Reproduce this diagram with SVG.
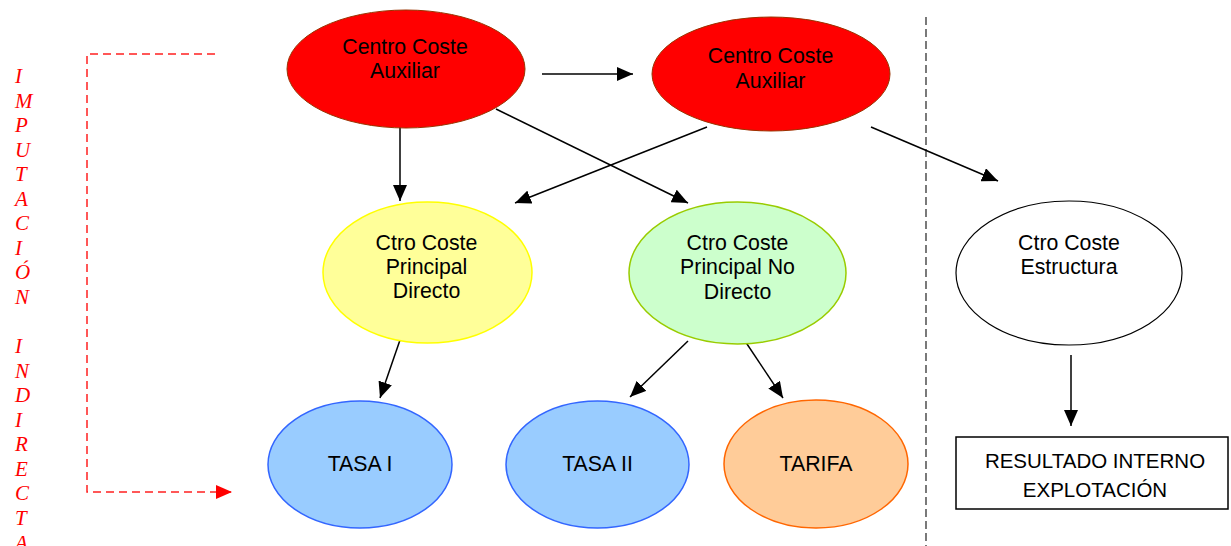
<svg xmlns="http://www.w3.org/2000/svg" width="1231" height="546" viewBox="0 0 1231 546">
<style>
.t{font-family:"Liberation Sans",Arial,sans-serif;font-size:21.3px;fill:#000;text-anchor:middle}
.b{font-family:"Liberation Sans",Arial,sans-serif;font-size:20.5px;fill:#000;text-anchor:middle}
.v{font-family:"Liberation Serif","Times New Roman",serif;font-style:italic;font-size:21px;fill:#ff0000}
.c{stroke:#000;stroke-width:1.5;fill:none;marker-end:url(#ah)}
.red{fill:#ff0000;stroke:#993300;stroke-width:1}
</style>
<defs>
<marker id="ah" markerUnits="userSpaceOnUse" markerWidth="16" markerHeight="14" viewBox="0 0 16 14" refX="16" refY="7" orient="auto">
<path d="M0,0 L16,7 L0,14 z" fill="#000"/>
</marker>
<marker id="ra" markerUnits="userSpaceOnUse" markerWidth="16" markerHeight="14" viewBox="0 0 16 14" refX="16" refY="7" orient="auto">
<path d="M0,0 L16,7 L0,14 z" fill="#ff0000"/>
</marker>
</defs>

<g id="vertical-label">
<text class="v" x="15" y="83">I</text>
<text class="v" x="15" y="107.6">M</text>
<text class="v" x="15" y="132.1">P</text>
<text class="v" x="15" y="156.7">U</text>
<text class="v" x="15" y="181.2">T</text>
<text class="v" x="15" y="205.8">A</text>
<text class="v" x="15" y="230.3">C</text>
<text class="v" x="15" y="254.9">I</text>
<text class="v" x="15" y="279.4">Ó</text>
<text class="v" x="15" y="304">N</text>
<text class="v" x="15" y="353.1">I</text>
<text class="v" x="15" y="377.6">N</text>
<text class="v" x="15" y="402.2">D</text>
<text class="v" x="15" y="426.7">I</text>
<text class="v" x="15" y="451.3">R</text>
<text class="v" x="15" y="475.8">E</text>
<text class="v" x="15" y="500.4">C</text>
<text class="v" x="15" y="524.9">T</text>
<text class="v" x="15" y="549.5">A</text>
</g>

<g id="separator">
<line x1="926" y1="17" x2="926" y2="546" stroke="#222" stroke-width="1.2" stroke-dasharray="8 4"/>
</g>

<g id="connectors">
<path d="M215,54 H87 V492 H232" fill="none" stroke="#ff2020" stroke-width="1.5" stroke-dasharray="8 5" marker-end="url(#ra)"/>
<line class="c" x1="542" y1="74" x2="633" y2="74"/>
<line class="c" x1="400" y1="127" x2="400" y2="201"/>
<line class="c" x1="496" y1="109" x2="688" y2="203"/>
<line class="c" x1="707" y1="127" x2="515" y2="203"/>
<line class="c" x1="871" y1="127" x2="998" y2="181"/>
<line class="c" x1="400" y1="340" x2="380" y2="398"/>
<line class="c" x1="688" y1="341" x2="630" y2="397"/>
<line class="c" x1="745" y1="341" x2="783" y2="398"/>
<line class="c" x1="1071" y1="355" x2="1071" y2="426"/>
</g>

<g id="aux1">
<ellipse class="red" cx="406" cy="69" rx="119" ry="59"/>
<text class="t" x="405" y="54">Centro Coste</text>
<text class="t" x="405" y="78">Auxiliar</text>
</g>

<g id="aux2">
<ellipse class="red" cx="771" cy="74" rx="119" ry="57"/>
<text class="t" x="770.5" y="63">Centro Coste</text>
<text class="t" x="770.5" y="87.5">Auxiliar</text>
</g>

<g id="principal-directo">
<ellipse cx="427.5" cy="272.5" rx="104.5" ry="70.5" fill="#ffff99" stroke="#ffff00" stroke-width="1.5"/>
<text class="t" x="426.5" y="250">Ctro Coste</text>
<text class="t" x="426.5" y="274">Principal</text>
<text class="t" x="426.5" y="298">Directo</text>
</g>

<g id="principal-no-directo">
<ellipse cx="737.5" cy="273" rx="108.5" ry="71" fill="#ccffcc" stroke="#99cc00" stroke-width="1.5"/>
<text class="t" x="737.5" y="250">Ctro Coste</text>
<text class="t" x="737.5" y="274">Principal No</text>
<text class="t" x="737.5" y="298.5">Directo</text>
</g>

<g id="estructura">
<ellipse cx="1069" cy="273" rx="113" ry="72" fill="#ffffff" stroke="#000" stroke-width="1.2"/>
<text class="t" x="1069" y="250">Ctro Coste</text>
<text class="t" x="1069" y="274">Estructura</text>
</g>

<g id="tasa1">
<ellipse cx="360" cy="464.5" rx="92" ry="63.5" fill="#99ccff" stroke="#3366ff" stroke-width="1.5"/>
<text class="t" x="360" y="471">TASA I</text>
</g>

<g id="tasa2">
<ellipse cx="597.5" cy="464.5" rx="91.5" ry="63.5" fill="#99ccff" stroke="#3366ff" stroke-width="1.5"/>
<text class="t" x="597.5" y="471">TASA II</text>
</g>

<g id="tarifa">
<ellipse cx="816" cy="464" rx="92" ry="64" fill="#ffcc99" stroke="#ff6600" stroke-width="1.5"/>
<text class="t" x="816" y="471">TARIFA</text>
</g>

<g id="resultado">
<rect x="956" y="437" width="272" height="72" fill="#ffffff" stroke="#000" stroke-width="1.5"/>
<text class="b" x="1095" y="468">RESULTADO INTERNO</text>
<text class="b" x="1095" y="497">EXPLOTACIÓN</text>
</g>
</svg>
